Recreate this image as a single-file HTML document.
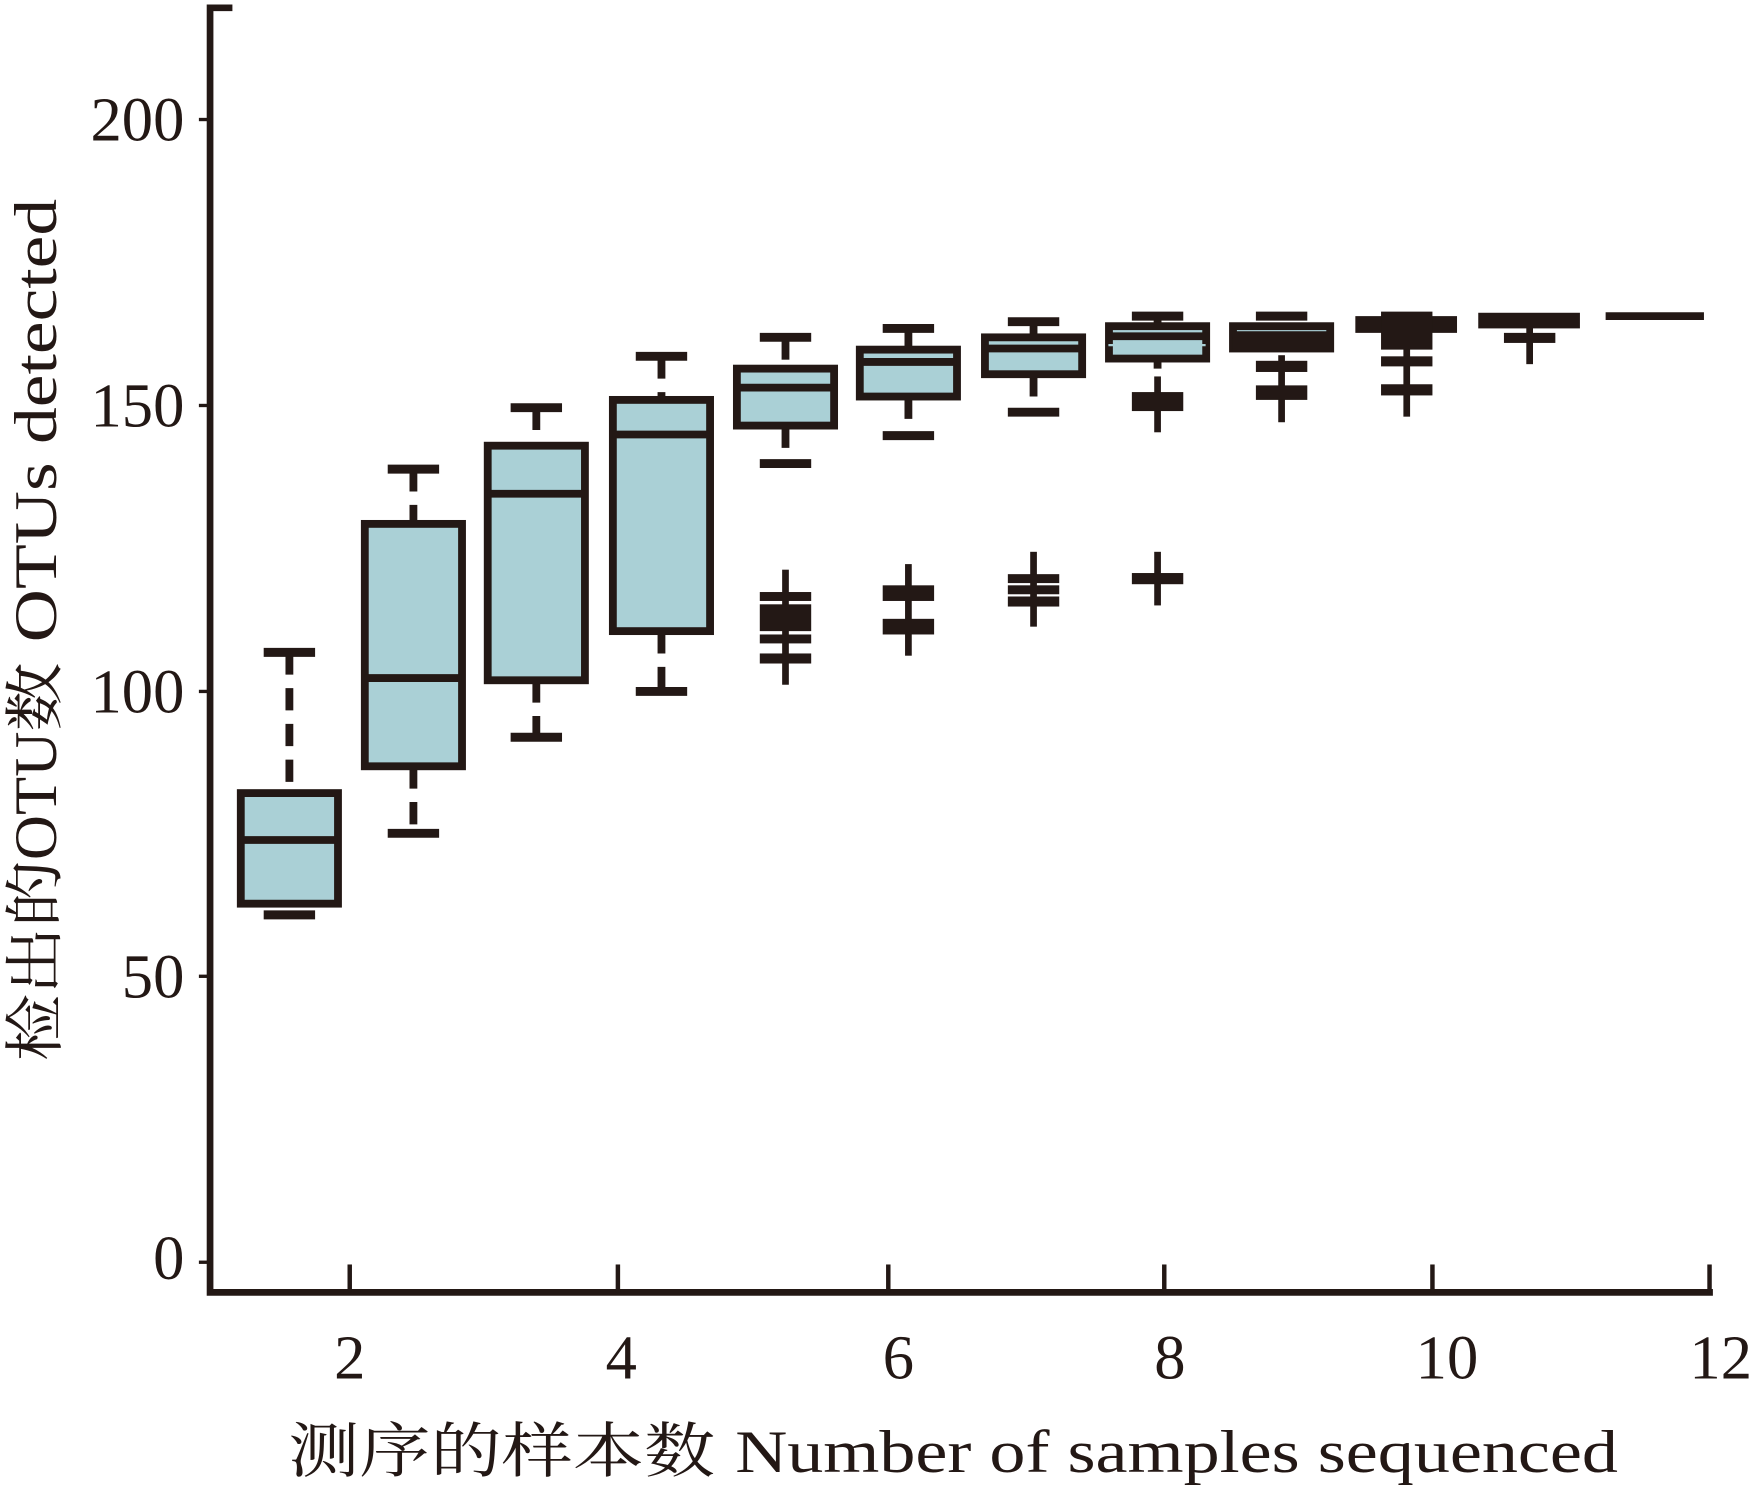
<!DOCTYPE html>
<html><head><meta charset="utf-8"><style>
html,body{margin:0;padding:0;background:#fff;}
svg{display:block;}
</style></head><body>
<svg width="1752" height="1489" viewBox="0 0 1568 1333" preserveAspectRatio="none" xmlns="http://www.w3.org/2000/svg">
<g fill="none" stroke="#231815">
<path d="M208 7 H188 V1157 H1533" stroke-width="6"/>
<g stroke-width="3">
<line x1="178" y1="107" x2="188" y2="107"/><line x1="178" y1="363" x2="188" y2="363"/>
<line x1="178" y1="619" x2="188" y2="619"/><line x1="178" y1="874" x2="188" y2="874"/>
<line x1="178" y1="1130" x2="188" y2="1130"/>
</g>
<g stroke-width="4">
<line x1="313" y1="1132" x2="313" y2="1157"/><line x1="553" y1="1132" x2="553" y2="1157"/>
<line x1="795" y1="1132" x2="795" y2="1157"/><line x1="1042" y1="1132" x2="1042" y2="1157"/>
<line x1="1282" y1="1132" x2="1282" y2="1157"/><line x1="1530" y1="1132" x2="1530" y2="1157"/>
</g>
<g stroke-width="7" stroke-dasharray="20 12">
<line x1="259" y1="584" x2="259" y2="710"/>
<line x1="370" y1="420" x2="370" y2="469"/><line x1="370" y1="686" x2="370" y2="746"/>
<line x1="480" y1="365" x2="480" y2="399"/><line x1="480" y1="609" x2="480" y2="660"/>
<line x1="592" y1="319" x2="592" y2="358"/><line x1="592" y1="565" x2="592" y2="619"/>
<line x1="703" y1="302" x2="703" y2="330"/><line x1="703" y1="381" x2="703" y2="415"/>
<line x1="813" y1="294" x2="813" y2="313"/><line x1="813" y1="355" x2="813" y2="390"/>
<line x1="925" y1="288" x2="925" y2="302"/><line x1="925" y1="335" x2="925" y2="369"/>
<line x1="1036" y1="283" x2="1036" y2="292"/><line x1="1036" y1="321" x2="1036" y2="330"/>
</g>
<g stroke-width="8">
<line x1="236" y1="584" x2="282" y2="584"/><line x1="236" y1="819" x2="282" y2="819"/>
<line x1="347" y1="420" x2="393" y2="420"/><line x1="347" y1="746" x2="393" y2="746"/>
<line x1="457" y1="365" x2="503" y2="365"/><line x1="457" y1="660" x2="503" y2="660"/>
<line x1="569" y1="319" x2="615" y2="319"/><line x1="569" y1="619" x2="615" y2="619"/>
<line x1="680" y1="302" x2="726" y2="302"/><line x1="680" y1="415" x2="726" y2="415"/>
<line x1="790" y1="294" x2="836" y2="294"/><line x1="790" y1="390" x2="836" y2="390"/>
<line x1="902" y1="288" x2="948" y2="288"/><line x1="902" y1="369" x2="948" y2="369"/>
<line x1="1013" y1="283" x2="1059" y2="283"/>
<line x1="1124" y1="283" x2="1170" y2="283"/>
<line x1="1236" y1="283" x2="1282" y2="283"/>
</g>
<g fill="#aad0d6" stroke-width="7">
<rect x="215.5" y="710" width="87" height="99"/>
<rect x="326.5" y="469" width="87" height="217"/>
<rect x="436.5" y="399" width="87" height="210"/>
<rect x="548.5" y="358" width="87" height="207"/>
<rect x="659.5" y="330" width="87" height="51"/>
<rect x="769.5" y="313" width="87" height="42"/>
<rect x="881.5" y="302" width="87" height="33"/>
<rect x="992.5" y="292" width="87" height="29"/>
<rect x="1103.5" y="292" width="87" height="20"/>
</g>
<g stroke-width="7">
<line x1="215" y1="752" x2="302" y2="752"/>
<line x1="326" y1="607" x2="413" y2="607"/>
<line x1="436" y1="442" x2="523" y2="442"/>
<line x1="548" y1="389" x2="635" y2="389"/>
<line x1="659" y1="347" x2="746" y2="347"/>
<line x1="769" y1="324" x2="856" y2="324"/>
<line x1="881" y1="312" x2="968" y2="312"/>
<line x1="992" y1="301" x2="1079" y2="301"/>
<line x1="1103" y1="300" x2="1190" y2="300"/>
<line x1="1437" y1="283" x2="1525" y2="283"/>
</g>
<line x1="992" y1="309" x2="1079" y2="309" stroke="#aad0d6" stroke-width="2"/>
</g>
<g fill="#231815">
<rect x="1103" y="302" width="87" height="13"/>
<rect x="1213" y="283" width="91" height="15"/>
<rect x="1323" y="280" width="91" height="14"/>
<rect x="700" y="510" width="6" height="103"/>
<rect x="680" y="530" width="46" height="8"/><rect x="680" y="541" width="46" height="24"/>
<rect x="680" y="568" width="46" height="8"/><rect x="680" y="585" width="46" height="9"/>
<rect x="810" y="505" width="6" height="82"/>
<rect x="790" y="524" width="46" height="14"/><rect x="790" y="554" width="46" height="14"/>
<rect x="922" y="494" width="6" height="67"/>
<rect x="902" y="514" width="46" height="8"/><rect x="902" y="524" width="46" height="8"/><rect x="902" y="534" width="46" height="9"/>
<rect x="1033" y="494" width="6" height="48"/><rect x="1013" y="513" width="46" height="10"/>
<rect x="1033" y="337" width="6" height="50"/><rect x="1013" y="351" width="46" height="17"/>
<rect x="1144" y="318" width="6" height="60"/><rect x="1124" y="323" width="46" height="10"/><rect x="1124" y="345" width="46" height="13"/>
<rect x="1256" y="296" width="6" height="77"/><rect x="1236" y="319" width="46" height="9"/><rect x="1236" y="344" width="46" height="10"/><rect x="1236" y="283" width="46" height="30"/>
<rect x="1366" y="292" width="6" height="34"/><rect x="1346" y="298" width="46" height="9"/>
</g>
<g font-family="Liberation Serif, serif" font-size="56" fill="#231815">
<text x="165" y="126" text-anchor="end">200</text>
<text x="165" y="382" text-anchor="end">150</text>
<text x="165" y="638" text-anchor="end">100</text>
<text x="165" y="893" text-anchor="end">50</text>
<text x="165" y="1145" text-anchor="end">0</text>
<text x="313" y="1234" text-anchor="middle">2</text>
<text x="556" y="1234" text-anchor="middle">4</text>
<text x="804" y="1234" text-anchor="middle">6</text>
<text x="1047" y="1234" text-anchor="middle">8</text>
<text x="1295" y="1234" text-anchor="middle">10</text>
<text x="1540" y="1234" text-anchor="middle">12</text>
</g>
<g font-family="Liberation Serif, 'Noto Serif CJK SC', serif" font-size="54" fill="#231815">
<text x="258" y="1318" textLength="382" lengthAdjust="spacingAndGlyphs">测序的样本数</text>
<text x="658" y="1318" textLength="790" lengthAdjust="spacingAndGlyphs">Number of samples sequenced</text>
<text transform="translate(50,950) rotate(-90)" textLength="180" lengthAdjust="spacingAndGlyphs">检出的</text>
<text transform="translate(50,770) rotate(-90)" textLength="115" lengthAdjust="spacingAndGlyphs">OTU</text>
<text transform="translate(50,655) rotate(-90)" textLength="62" lengthAdjust="spacingAndGlyphs">数</text>
<text transform="translate(50,575) rotate(-90)" textLength="397" lengthAdjust="spacingAndGlyphs">OTUs detected</text>
</g>
</svg>
</body></html>
